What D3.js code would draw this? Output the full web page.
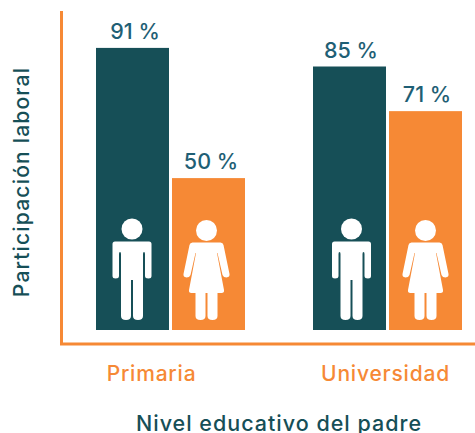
<!DOCTYPE html>
<html><head><meta charset="utf-8">
<script src="https://cdn.jsdelivr.net/npm/d3@7"></script>
<style>html,body{margin:0;padding:0;background:#fff}svg{display:block}text{font-family:Inter,"Open Sans",sans-serif}</style>
</head><body><div id="c"></div>
<script>
const categories = ["Primaria", "Universidad"];
const series = ["Hombre", "Mujer"];
const hombre = [91, 85];
const mujer = [49, 70.6];
const labelsHombre = ["91 %", "85 %"];
const labelsMujer = ["50 %", "71 %"];
const yTitle = "Participación laboral";
const xTitle = "Nivel educativo del padre";
const teal = "#164f57", orange = "#f68935", labelTeal = "#1f5f75";

const W = 475, H = 433;
const svg = d3.select("#c").append("svg").attr("width", W).attr("height", H);
const y = d3.scaleLinear().domain([0, 100]).range([330, 20]);
const groupX = d3.scalePoint().domain(categories).range([96, 313]);
const labelX = d3.scalePoint().domain(categories).range([151.5, 385.5]);
const x1 = d3.scalePoint().domain(series).range([0, 76]);
const bw = 73;

// Pictograms, local coordinates centred on the figure
function man(g){
  g.append("circle").attr("cx",0).attr("cy",-61).attr("r",10.5);
  g.append("path").attr("d","M-17,-48.5 H17 Q19.5,-48.5 19.5,-46 V-14 Q19.5,-11.5 16.5,-11.5 Q13,-11.5 13,-14 V-36 Q13,-38 12,-38 Q11,-38 11,-36 V26 Q11,30 6,30 Q1,30 1,26 V-10 H-1 V26 Q-1,30 -6,30 Q-11,30 -11,26 V-36 Q-11,-38 -12,-38 Q-13,-38 -13,-36 V-14 Q-13,-11.5 -16.5,-11.5 Q-19.5,-11.5 -19.5,-14 V-46 Q-19.5,-48.5 -17,-48.5 Z");
}
function woman(g){
  g.append("circle").attr("cx",0).attr("cy",-59.5).attr("r",10.5);
  g.append("path").attr("d","M-14,-47.5 H14 Q16.5,-47.5 17,-45 L23,-16 Q23.5,-13 20,-12.5 Q17,-12.5 16,-15 L11,-37 L10.5,-37 L17.5,0 Q18,3 15,3 H11 V26 Q11,30 6,30 Q1,30 1,26 V3 H-1 V26 Q-1,30 -6,30 Q-11,30 -11,26 V3 H-15 Q-18,3 -17.5,0 L-10.5,-37 L-11,-37 L-16,-15 Q-17,-12.5 -20,-12.5 Q-23.5,-13 -23,-16 L-17,-45 Q-16.5,-47.5 -14,-47.5 Z");
}

categories.forEach((c, i) => {
  const rows = [
    {s:"Hombre", v:hombre[i], l:labelsHombre[i], col:teal, icon:man},
    {s:"Mujer", v:mujer[i], l:labelsMujer[i], col:orange, icon:woman}
  ];
  rows.forEach(r => {
    const bx = groupX(c) + x1(r.s);
    svg.append("rect").attr("x", bx).attr("width", bw).attr("y", y(r.v)).attr("height", y(0) - y(r.v)).attr("fill", r.col);
    svg.append("text").attr("x", bx + bw/2 + (i ? 1.5 : 2.5)).attr("y", y(r.v) - 9).attr("text-anchor","middle")
      .attr("font-size", 21.5).attr("font-weight", 500).attr("fill", labelTeal).text(r.l);
    const g = svg.append("g").attr("fill","#fff").attr("transform", `translate(${bx + bw/2 + (r.s==="Hombre"?(i?2:-0.5):(i?0:-2))},290)`);
    r.icon(g);
  });
  svg.append("text").attr("x", labelX(c)).attr("y", 381).attr("text-anchor","middle")
    .attr("font-size", 21).attr("font-weight", 500).attr("letter-spacing", 0.8).attr("fill", orange).text(c);
});

svg.append("path").attr("d", "M61.5,11 V344 H475").attr("fill","none").attr("stroke", orange).attr("stroke-width", 3);
svg.append("text").attr("transform","translate(29,182) rotate(-90)").attr("text-anchor","middle")
  .attr("font-size", 21).attr("font-weight", 500).attr("letter-spacing", 1.2).attr("fill", teal).text(yTitle);
svg.append("text").attr("x", 279).attr("y", 431).attr("text-anchor","middle")
  .attr("font-size", 21.5).attr("font-weight", 500).attr("letter-spacing", 1).attr("fill", teal).text(xTitle);
</script></body></html>
